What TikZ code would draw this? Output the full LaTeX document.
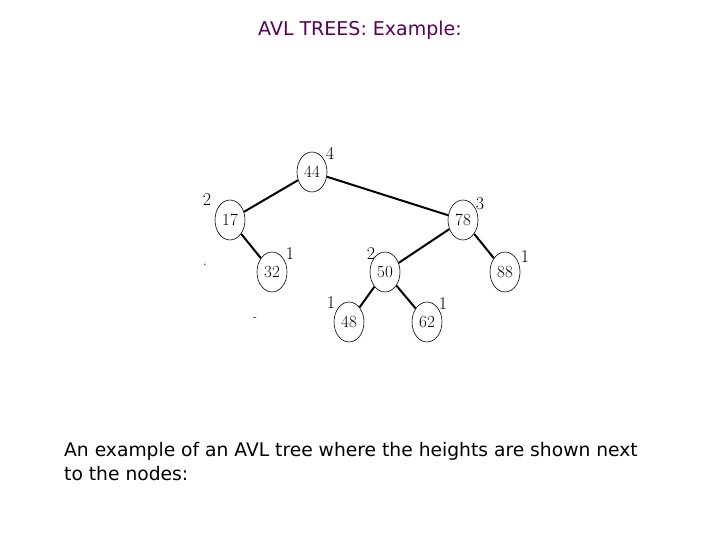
\documentclass[tikz,border=0pt]{standalone}
\usepackage{fontspec}
\setsansfont{DejaVu Sans}
\usetikzlibrary{shapes.geometric}
\begin{document}
\begin{tikzpicture}[x=1pt,y=-1pt,
  nd/.style={ellipse,draw,line width=0.6pt,minimum width=30pt,minimum height=40pt,inner sep=0pt,font=\fontsize{17}{17}\selectfont},
  ht/.style={font=\fontsize{18}{18}\selectfont},
  ed/.style={line width=2pt}]
\useasboundingbox (0,0) rectangle (720,540);
\node[font=\sffamily\fontsize{19}{22}\selectfont,text=violet!70!black] (t) at (360,30) {AVL TREES: Example:};
\node[nd] (n44) at (312,172) {44};
\node[nd] (n17) at (230,220) {17};
\node[nd] (n78) at (463,220) {78};
\node[nd] (n32) at (272,272) {32};
\node[nd] (n50) at (385,272) {50};
\node[nd] (n88) at (505,272) {88};
\node[nd] (n48) at (349,322) {48};
\node[nd] (n62) at (427,322) {62};
\draw[ed] (n44) -- (n17);
\draw[ed] (n44) -- (n78);
\draw[ed] (n17) -- (n32);
\draw[ed] (n78) -- (n50);
\draw[ed] (n78) -- (n88);
\draw[ed] (n50) -- (n48);
\draw[ed] (n50) -- (n62);
\node[ht] (h44) at (330,153) {4};
\node[ht] (h17) at (207,200) {2};
\node[ht] (h78) at (480,204) {3};
\node[ht] (h32) at (290,254) {1};
\node[ht] (h50) at (371,254) {2};
\node[ht] (h88) at (525,257) {1};
\node[ht] (h48) at (331,303) {1};
\node[ht] (h62) at (443,304) {1};
\node[font=\fontsize{12}{12}\selectfont] (d1) at (205,266) {`};
\node[font=\fontsize{12}{12}\selectfont] (d2) at (255,319) {-};
\node[font=\sffamily\fontsize{18.7}{24}\selectfont,align=left,anchor=north west,inner sep=0pt] (cap) at (64,442) {An example of an AVL tree where the heights are shown next\\to the nodes:};
\end{tikzpicture}
\end{document}
